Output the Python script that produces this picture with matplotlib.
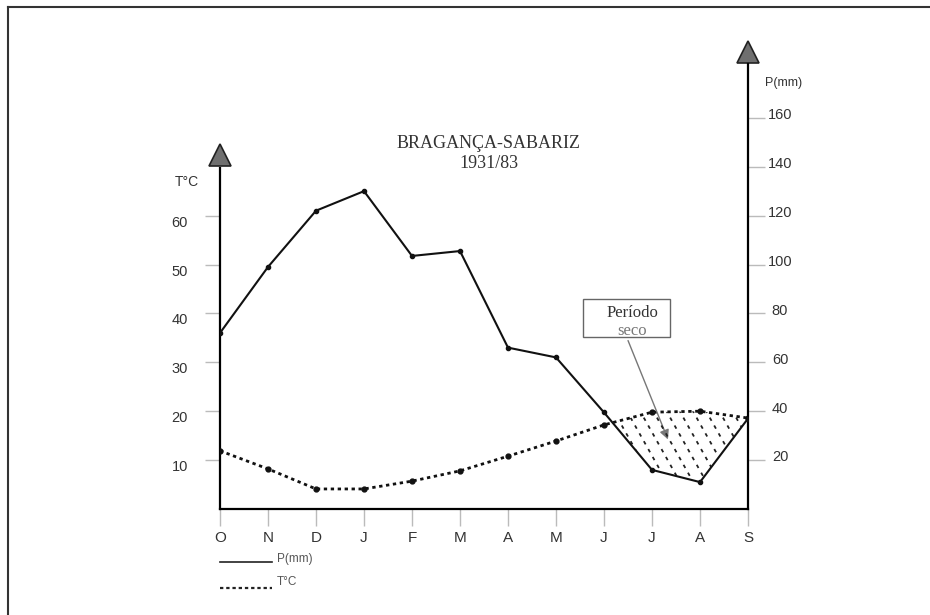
import numpy as np
import matplotlib
matplotlib.use("Agg")
import matplotlib.pyplot as plt
import matplotlib.transforms as mtransforms
from matplotlib.lines import Line2D
from matplotlib.patches import Rectangle

# Bragança-Sabariz 1931/83 - ombrothermic diagram
months = ["O", "N", "D", "J", "F", "M", "A", "M", "J", "J", "A", "S"]
precip_mm = [72, 99, 122, 130, 103.5, 105.5, 66, 62, 39.5, 16, 11, 37]
temp_c = [11.9, 8.2, 4.1, 4.1, 5.7, 7.8, 10.8, 13.9, 17.2, 19.8, 20.0, 18.6]
t_ticks = [10, 20, 30, 40, 50, 60]
p_ticks = [20, 40, 60, 80, 100, 120, 140, 160]

W, H = 930, 615
plt.rcParams['font.family'] = ['Liberation Sans', 'DejaVu Sans']

fig = plt.figure(figsize=(W / 100, H / 100), dpi=100)

def fx(px):
  return px / W

def fy(py):
  return 1 - py / H

# axes box: O..S from x=220 to x=748, zero at y=509, top at y=40
ax = fig.add_axes([fx(220), fy(509), fx(748) - fx(220), fy(40) - fy(509)])
ax2 = ax.twinx()
t_top = (509 - 40) / 4.89
ax.set_ylim(0, t_top)
ax2.set_ylim(0, 2 * t_top)
x = np.arange(len(months))
ax.set_xlim(0, len(months) - 1)

for a in (ax, ax2):
  a.patch.set_visible(False)
  for s in a.spines.values():
    s.set_visible(False)

# axes lines with arrow heads
ax.spines['bottom'].set_visible(True)
ax.spines['bottom'].set_linewidth(1.6)
ax.spines['left'].set_visible(True)
ax.spines['left'].set_linewidth(1.6)
ax.spines['left'].set_bounds(0, 69.7)
ax2.spines['right'].set_visible(True)
ax2.spines['right'].set_linewidth(1.6)
ax2.spines['right'].set_bounds(0, 182)
ax.plot(0, 72.3, '^', ms=16, mfc='#6f6f6f', mec='#222222', mew=1.2, clip_on=False)
ax2.plot(11, 187, '^', ms=16, mfc='#6f6f6f', mec='#222222', mew=1.2, clip_on=False)

# ticks
ax.set_xticks(x)
ax.set_xticklabels(months, fontsize=11, color='#333333')
ax.tick_params(axis='x', length=12, width=1, color='#bbbbbb', pad=4)
ax.set_yticks(t_ticks)
ax.set_yticklabels([str(t) for t in t_ticks], fontsize=10.5, color='#333333')
ax.tick_params(axis='y', length=11, width=1, color='#bbbbbb', pad=12)
ax2.set_yticks(p_ticks)
ax2.set_yticklabels([str(p) for p in p_ticks], fontsize=10.5, color='#333333')
ax2.tick_params(axis='y', length=12, width=1, color='#bbbbbb', pad=11)
for lab in ax2.get_yticklabels():
  lab.set_horizontalalignment('center')
# labels sit a little off their tick marks in the original
down = mtransforms.ScaledTranslation(0, -4 / 72, fig.dpi_scale_trans)
up = mtransforms.ScaledTranslation(0, 3 / 72, fig.dpi_scale_trans)
for lab in ax.get_yticklabels():
  lab.set_transform(lab.get_transform() + down)
for lab in ax2.get_yticklabels():
  lab.set_transform(lab.get_transform() + up)

# curves
ax2.plot(x, precip_mm, '-', color='#111111', lw=1.5, marker='o', ms=3, zorder=5)
ax.plot(x, temp_c, color='#111111', lw=2, linestyle=(0, (1.2, 1.3)),
         marker='o', ms=3.5, zorder=5)

# dry period: P < 2T, filled with short dashes
p_arr = np.array(precip_mm)
t2 = 2 * np.array(temp_c)
dry = ax2.fill_between(x, p_arr, t2, where=p_arr <= t2 + 0.01, interpolate=True,
                       facecolor='none', edgecolor='none')
clip_path = dry.get_paths()[0]
for x0 in np.arange(-0.6, 1.2, 0.025):
  ln = ax2.plot([x0, x0 + 0.5], [1, 0], transform=ax2.transAxes, color='#222222',
                lw=1.3, linestyle=(0, (2, 3)))[0]
  ln.set_clip_path(clip_path, ax2.transData)

# titles and labels
fig.text(fx(489), fy(144), "BRAGANÇA-SABARIZ", family='Liberation Serif', fontsize=13,
         color='#333333', ha='center', va='center')
fig.text(fx(489), fy(164), "1931/83", family='Liberation Serif', fontsize=13,
         color='#333333', ha='center', va='center')
fig.text(fx(187), fy(182), "T°C", fontsize=10, color='#333333', ha='center', va='center')
fig.text(fx(784), fy(83), "P(mm)", fontsize=9, color='#333333', ha='center', va='center')

# "Periodo seco" box with arrow
fig.add_artist(Rectangle((fx(583), fy(337)), fx(670) - fx(583), fy(299) - fy(337),
                         transform=fig.transFigure, facecolor='white',
                         edgecolor='#666666', lw=1))
fig.text(fx(632), fy(313), "Período", family='Liberation Serif', fontsize=12,
         color='#333333', ha='center', va='center')
fig.text(fx(632), fy(331), "seco", family='Liberation Serif', fontsize=12,
         color='#777777', ha='center', va='center')
ax.annotate("", xy=(fx(669), fy(442)), xycoords='figure fraction',
            xytext=(fx(627), fy(338)), textcoords='figure fraction',
            arrowprops=dict(arrowstyle='-|>', color='#777777', lw=1,
                            mutation_scale=14), zorder=6)

# legend
fig.add_artist(Line2D([fx(220), fx(272)], [fy(562), fy(562)], color='#222222', lw=1.2))
fig.add_artist(Line2D([fx(220), fx(272)], [fy(588), fy(588)], color='#222222', lw=1.6,
                      linestyle=(0, (1.5, 1.3))))
fig.text(fx(277), fy(559), "P(mm)", fontsize=8.5, color='#555555', va='center')
fig.text(fx(277), fy(582), "T°C", fontsize=8.5, color='#555555', va='center')

# page frame (top and left)
fig.add_artist(Line2D([fx(8), 1], [fy(7), fy(7)], color='#333333', lw=1.5))
fig.add_artist(Line2D([fx(8), fx(8)], [fy(7), 0], color='#333333', lw=1.5))

fig.savefig("out.png", dpi=100)
